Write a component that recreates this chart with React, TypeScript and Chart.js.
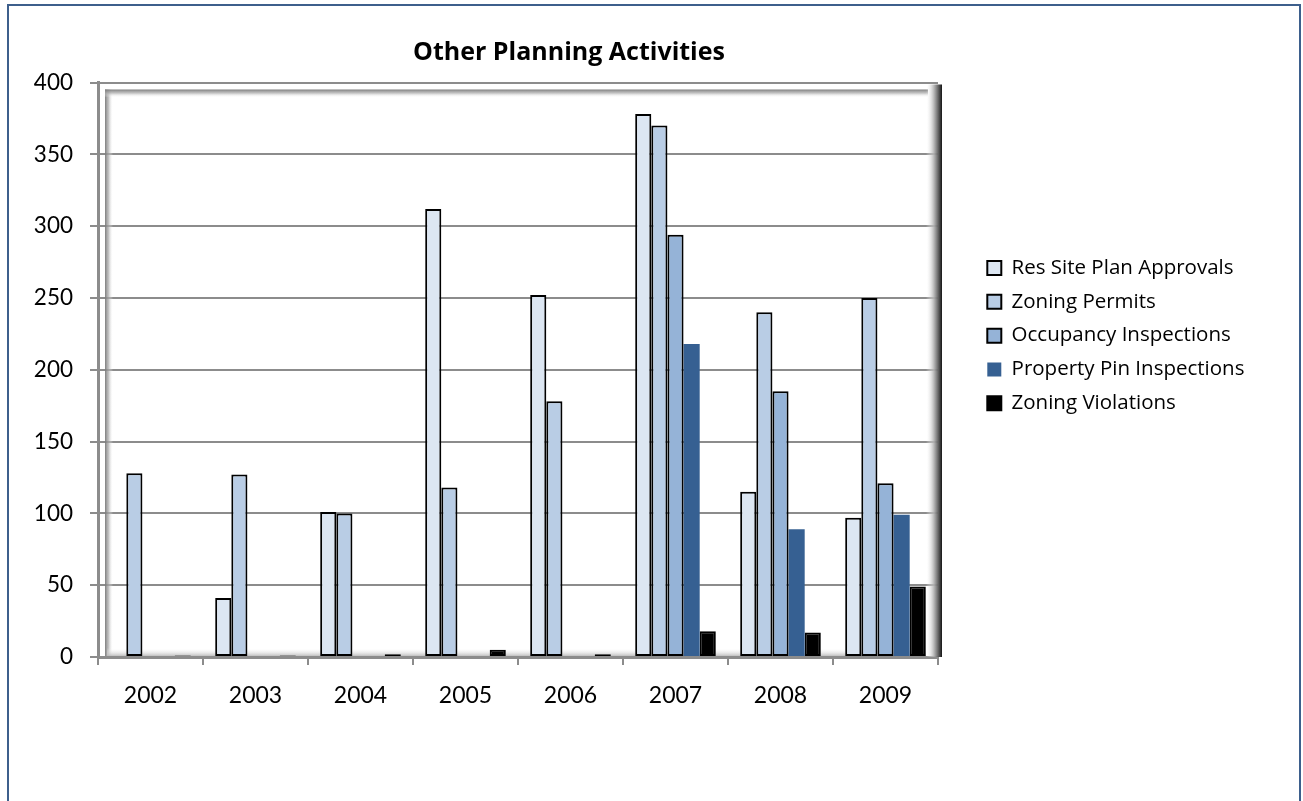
import React, { useEffect, useRef } from "react";
import { Chart, registerables } from "chart.js";

Chart.register(...registerables);

const categories = ["2002", "2003", "2004", "2005", "2006", "2007", "2008", "2009"];
const resSitePlanApprovals = [0, 41, 101, 312, 252, 378, 115, 97];
const zoningPermits = [128, 127, 100, 118, 178, 370, 240, 250];
const occupancyInspections = [0, 0, 0, 0, 0, 294, 185, 121];
const propertyPinInspections = [0, 0, 0, 0, 0, 218, 89, 99];
const zoningViolations = [1, 1, 2, 5, 2, 18, 17, 49];
const yMin = 0;
const yMax = 400;
const yStep = 50;

const TICK_FONT = "Lato, 'Open Sans', sans-serif";
const TEXT_FONT = "'Open Sans', Lato, sans-serif";

const framePlugin = {
  id: "bevelFrame",
  beforeDatasetsDraw(chart: any) {
    const { ctx, chartArea: a } = chart;
    ctx.save();
    const l = a.left + 7;
    const t = a.top + 7;
    const r = a.right + 4;
    const b = a.bottom - 1;
    let g = ctx.createLinearGradient(l, 0, l + 8, 0);
    g.addColorStop(0, "rgba(120,120,120,0.95)");
    g.addColorStop(0.45, "rgba(170,170,170,0.7)");
    g.addColorStop(1, "rgba(255,255,255,0)");
    ctx.fillStyle = g;
    ctx.fillRect(l, t, 8, b - t);
    g = ctx.createLinearGradient(0, t, 0, t + 8);
    g.addColorStop(0, "rgba(120,120,120,0.95)");
    g.addColorStop(0.45, "rgba(170,170,170,0.7)");
    g.addColorStop(1, "rgba(255,255,255,0)");
    ctx.fillStyle = g;
    ctx.fillRect(l, t, r - l - 14, 8);
    g = ctx.createLinearGradient(r - 16, 0, r, 0);
    g.addColorStop(0, "rgba(255,255,255,0)");
    g.addColorStop(0.5, "rgba(175,175,175,0.9)");
    g.addColorStop(1, "rgba(20,20,20,1)");
    ctx.fillStyle = g;
    ctx.fillRect(r - 16, a.top + 2, 16, b - a.top - 1);
    g = ctx.createLinearGradient(0, b - 8, 0, b);
    g.addColorStop(0, "rgba(255,255,255,0)");
    g.addColorStop(1, "rgba(185,185,185,0.9)");
    ctx.fillStyle = g;
    ctx.fillRect(l + 2, b - 8, r - l - 18, 8);
    ctx.restore();
  },
};

const legendPlace = {
  id: "legendPlace",
  afterLayout(chart: any) {
    const lg = chart.legend;
    if (!lg) return;
    lg.left = 974;
    lg.right = 1296;
    lg.top = 244.5;
    lg.bottom = 700;
  },
};

export default function App() {
  const ref = useRef<HTMLCanvasElement | null>(null);

  useEffect(() => {
    if (!ref.current) return;
    const common = { borderColor: "#000000", borderSkipped: false as any };
    const chart = new Chart(ref.current, {
      type: "bar",
      data: {
        labels: categories,
        datasets: [
          { label: "Res Site Plan Approvals", data: resSitePlanApprovals, backgroundColor: "#dce6f2", borderWidth: 2, ...common },
          { label: "Zoning Permits", data: zoningPermits, backgroundColor: "#b9cde5", borderWidth: 2, ...common },
          { label: "Occupancy Inspections", data: occupancyInspections, backgroundColor: "#95b3d7", borderWidth: 2, ...common },
          { label: "Property Pin Inspections", data: propertyPinInspections, backgroundColor: "#366092", borderWidth: 0, borderColor: "#366092", borderSkipped: false as any },
          { label: "Zoning Violations", data: zoningViolations, backgroundColor: "#000000", borderWidth: 2, ...common },
        ],
      },
      options: {
        responsive: false,
        animation: false,
        events: [],
        layout: { padding: { left: 20, right: 185, top: 0, bottom: 84 } },
        datasets: { bar: { categoryPercentage: 0.768, barPercentage: 1 } },
        scales: {
          x: {
            offset: true,
            grid: { display: true, drawOnChartArea: false, drawTicks: true, tickLength: 8, color: "#8c8c8c", lineWidth: 2, offset: true },
            border: { display: true, color: "#8c8c8c", width: 3 },
            ticks: { color: "#000", font: { family: TICK_FONT, size: 23 }, padding: 17, maxRotation: 0 },
            afterFit: (s: any) => { s.height = 60; },
          },
          y: {
            min: yMin,
            max: yMax,
            grid: { color: "#8c8c8c", lineWidth: 2, tickLength: 8, drawTicks: true },
            border: { display: true, color: "#8c8c8c", width: 3 },
            ticks: { stepSize: yStep, color: "#000", font: { family: TICK_FONT, size: 22.5 }, padding: 17 },
            afterFit: (s: any) => { s.width = 78; },
          },
        },
        plugins: {
          title: {
            display: true,
            text: "Other Planning Activities",
            color: "#000",
            font: { family: TEXT_FONT, size: 25, weight: "bold" },
            padding: { top: 38, bottom: 14.5 },
          },
          legend: {
            display: true,
            position: "right",
            align: "start",
            fullSize: false,
            maxWidth: 180,
            labels: {
              boxWidth: 14,
              boxHeight: 14,
              padding: 13.3,
              color: "#000",
              font: { family: TEXT_FONT, size: 20.5 },
            },
          },
          tooltip: { enabled: false },
        },
      },
      plugins: [framePlugin, legendPlace],
    });
    return () => chart.destroy();
  }, []);

  return (
    <div style={{ position: "fixed", left: 0, top: 0, width: 1303, height: 801, overflow: "hidden", background: "#fff" }}>
      <div style={{ position: "absolute", left: 7, top: 4, width: 1290, height: 900, border: "2px solid #3d5f8c" }} />
      <canvas ref={ref} width={1303} height={801} style={{ position: "absolute", left: 0, top: 0, width: 1303, height: 801 }} />
    </div>
  );
}
